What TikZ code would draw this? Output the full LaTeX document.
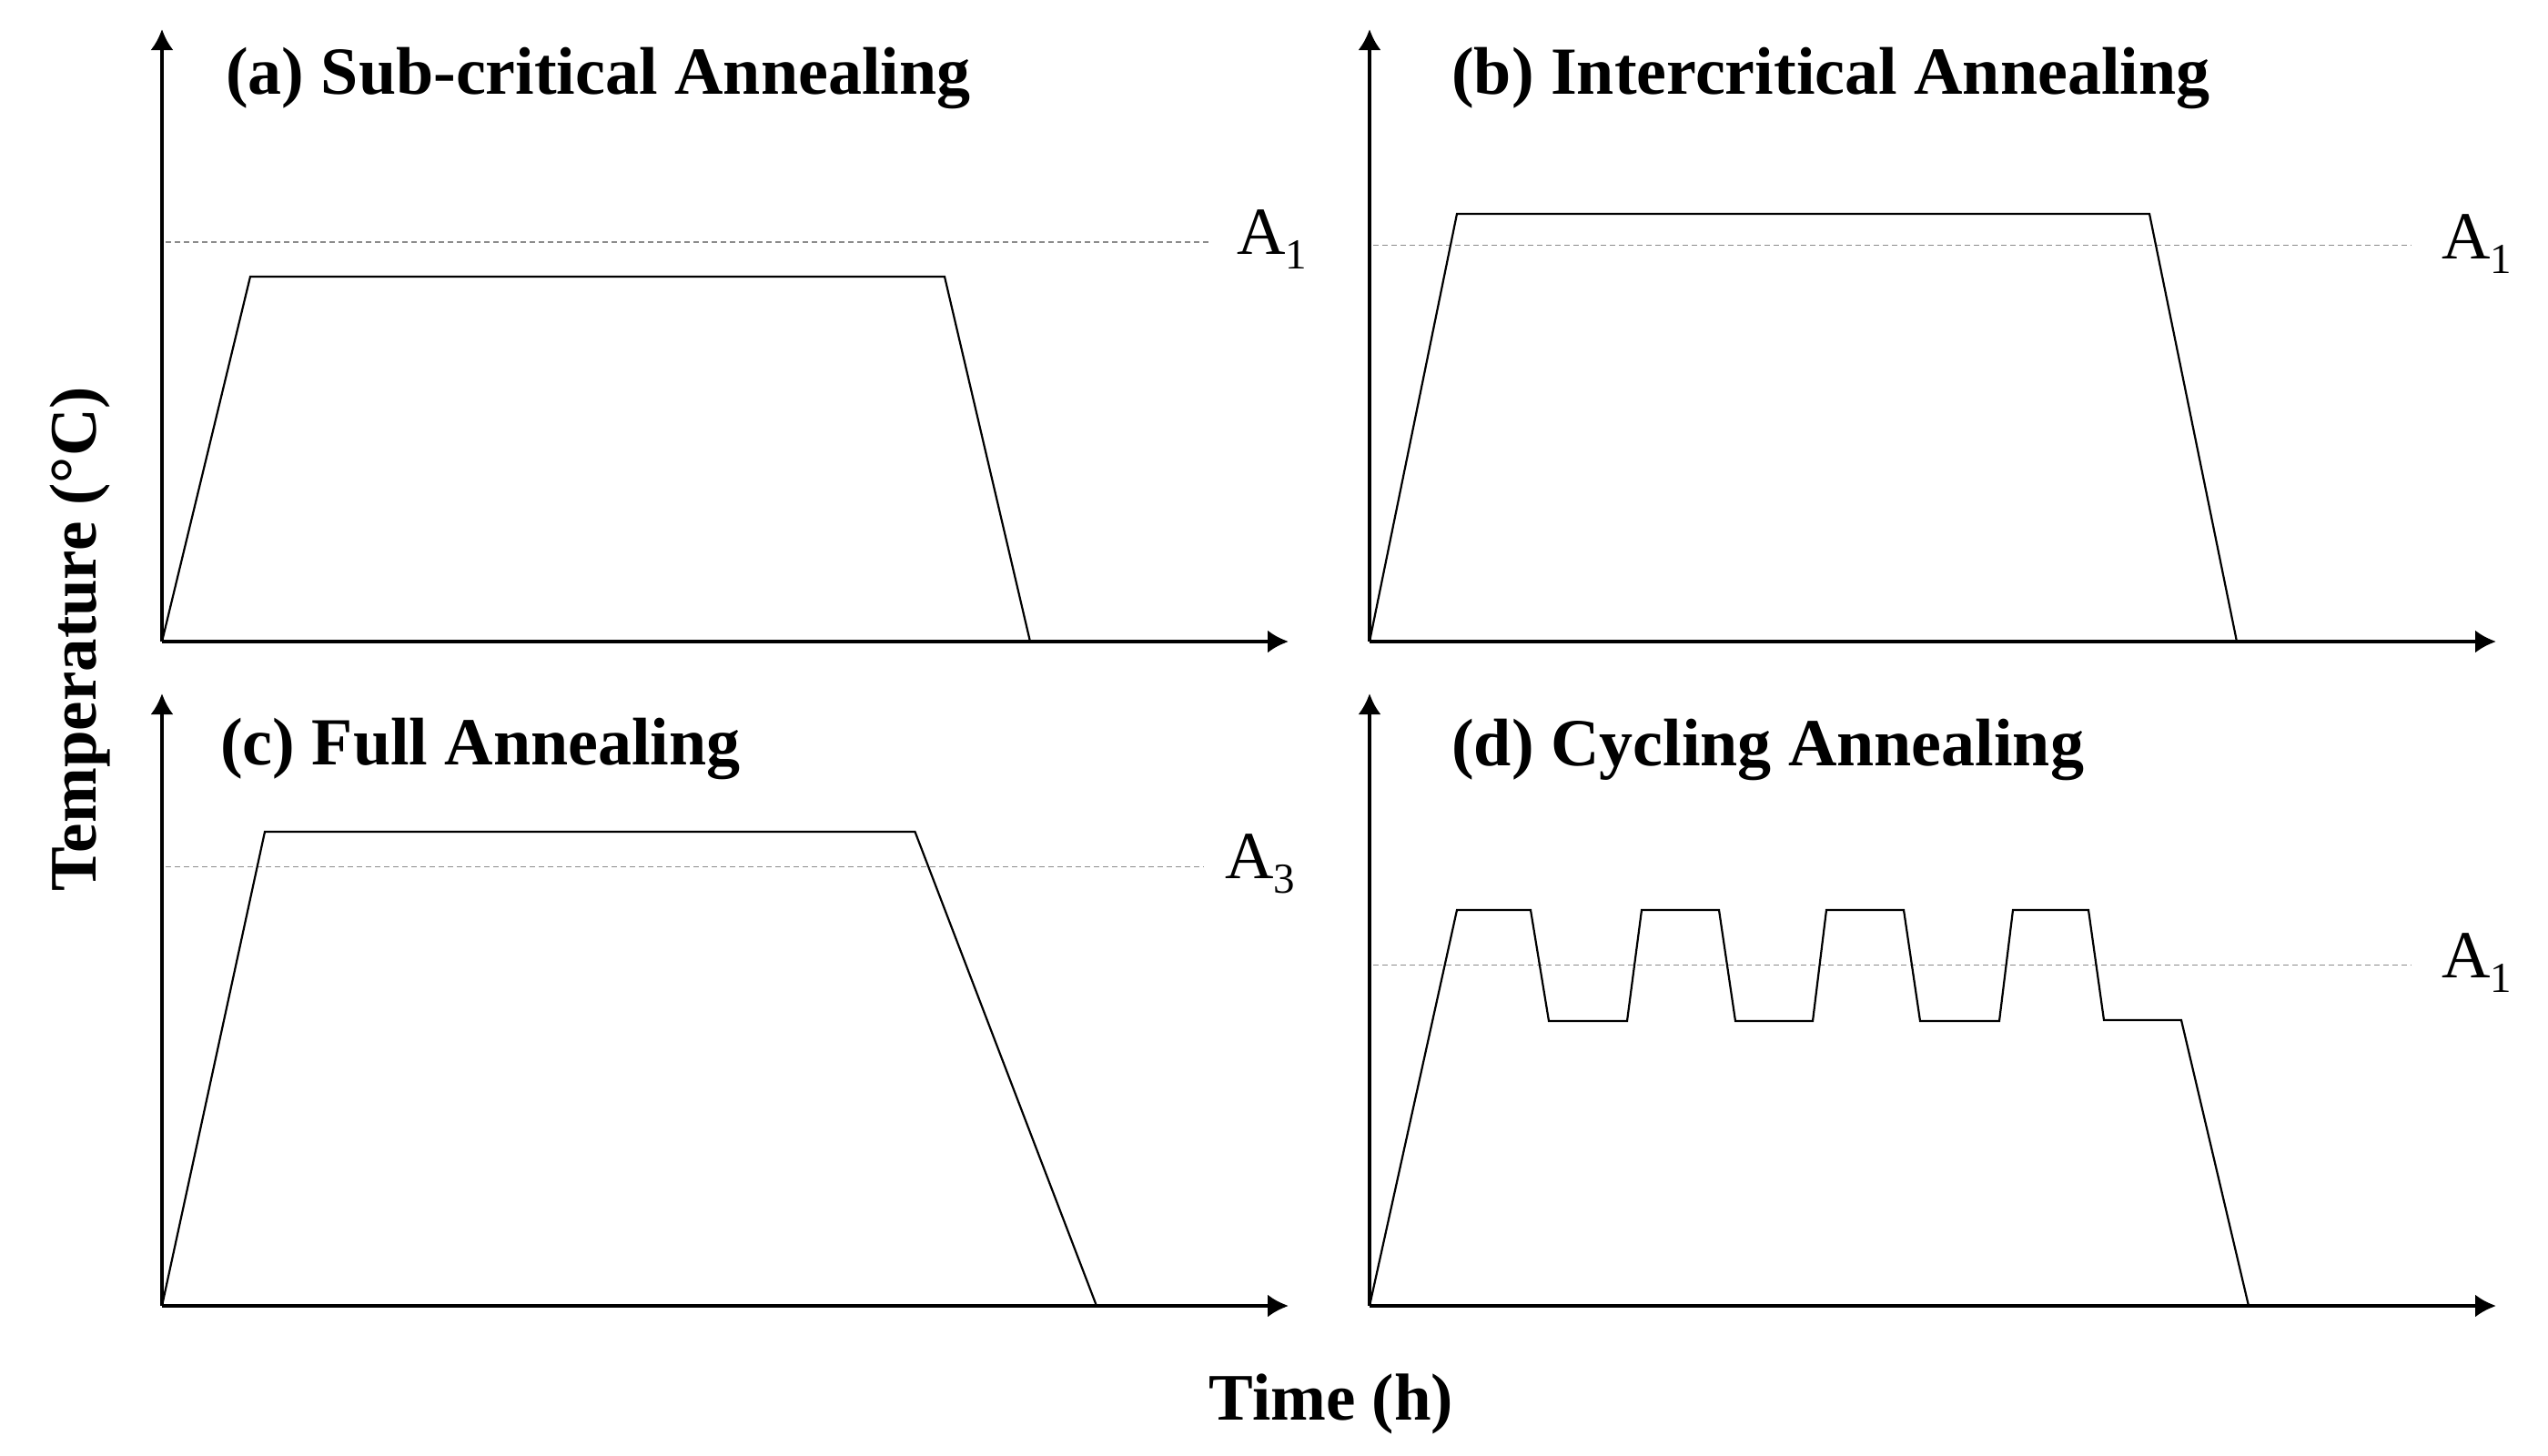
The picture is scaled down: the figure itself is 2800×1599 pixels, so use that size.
\documentclass[tikz,border=0pt]{standalone}
\usepackage{fontspec}
\setmainfont{Liberation Serif}
\usetikzlibrary{arrows.meta}
\newcommand{\Asub}[1]{A\raisebox{-16pt}{\fontsize{47}{47}\selectfont #1}}
\tikzset{
  axis/.style={line width=3.5pt,-{Latex[length=23pt,width=25pt]}},
  curve/.style={line width=2.2pt,line join=miter},
  crit/.style={draw=black!45,line width=1.8pt,dash pattern=on 6pt off 4pt},
  ttl/.style={font=\fontsize{74}{80}\selectfont\bfseries,inner sep=0pt,anchor=base west},
  alab/.style={font=\fontsize{74}{80}\selectfont,inner sep=0pt,anchor=base west},
  axlab/.style={font=\fontsize{73}{80}\selectfont\bfseries,inner sep=0pt,anchor=base}
}
\begin{document}
\begin{tikzpicture}[x=1pt,y=-1pt]
\useasboundingbox (0,0) rectangle (2800,1599);
% ---------- (a)
\coordinate (oa) at (178,705);
\draw[axis] (oa) -- (178,32);
\draw[axis] (oa) -- (1416,705);
\draw[crit] (182,266) -- (1330,266);
\draw[curve] (oa) -- (275,304) -- (1038,304) -- (1132,705);
\node[ttl] (ta) at (248,103) {(a) Sub-critical Annealing};
\node[alab] (la) at (1359,279) {\Asub{1}};
% ---------- (b)
\coordinate (ob) at (1505,705);
\draw[axis] (ob) -- (1505,32);
\draw[axis] (ob) -- (2743,705);
\draw[crit] (1509,269.5) -- (2650,269.5);
\draw[curve] (ob) -- (1601,235) -- (2362,235) -- (2458,705);
\node[ttl] (tb) at (1595,103) {(b) Intercritical Annealing};
\node[alab] (lb) at (2683,284) {\Asub{1}};
% ---------- (c)
\coordinate (oc) at (178,1435);
\draw[axis] (oc) -- (178,762);
\draw[axis] (oc) -- (1416,1435);
\draw[crit] (182,952.5) -- (1323,952.5);
\draw[curve] (oc) -- (291,914) -- (1005.5,914) -- (1205,1435);
\node[ttl] (tc) at (242,840) {(c) Full Annealing};
\node[alab] (lc) at (1346,965) {\Asub{3}};
% ---------- (d)
\coordinate (od) at (1505,1435);
\draw[axis] (od) -- (1505,762);
\draw[axis] (od) -- (2743,1435);
\draw[crit] (1509,1060.5) -- (2650,1060.5);
\draw[curve] (od) -- (1601,1000) -- (1682,1000) -- (1702,1122) -- (1788,1122)
  -- (1804,1000) -- (1889,1000) -- (1907,1122) -- (1992,1122)
  -- (2007,1000) -- (2092,1000) -- (2110,1122) -- (2197,1122)
  -- (2212,1000) -- (2295,1000) -- (2312,1121) -- (2397,1121) -- (2471,1435);
\node[ttl] (td) at (1595,841) {(d) Cycling Annealing};
\node[alab] (ld) at (2683,1074) {\Asub{1}};
% ---------- axis labels
\node[axlab,rotate=90] (ylab) at (105,702) {Temperature (°C)};
\node[axlab] (xlab) at (1463,1560) {Time (h)};
\end{tikzpicture}
\end{document}
